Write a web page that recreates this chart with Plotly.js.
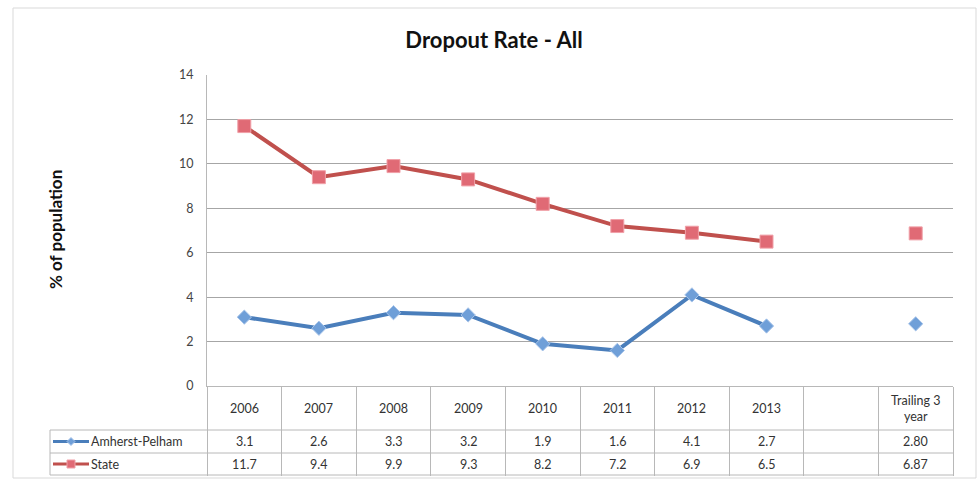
<!DOCTYPE html>
<html>
<head>
<meta charset="utf-8">
<script src="https://cdn.plot.ly/plotly-3.0.1.min.js"></script>
<style>html,body{margin:0;padding:0;background:#fff;}#chart{width:978px;height:482px;}</style>
</head>
<body>
<div id="chart"></div>
<script>
const categories = ["2006","2007","2008","2009","2010","2011","2012","2013"," ","Trailing 3 year"];
const headerLabels = ["2006","2007","2008","2009","2010","2011","2012","2013","","Trailing 3<br>year"];
const amherst = [3.1,2.6,3.3,3.2,1.9,1.6,4.1,2.7,null,2.80];
const state = [11.7,9.4,9.9,9.3,8.2,7.2,6.9,6.5,null,6.87];
const amherstText = ["3.1","2.6","3.3","3.2","1.9","1.6","4.1","2.7","","2.80"];
const stateText = ["11.7","9.4","9.9","9.3","8.2","7.2","6.9","6.5","","6.87"];
const seriesNames = ["Amherst-Pelham","State"];

const FONT = "Lato, 'Open Sans', sans-serif";
const blue = "#4a7ebb", red = "#c0504d";

// plot area: x 207..953, y 75..386
const L = 207, R = 953, T = 75, B = 386;
const W = R - L, H = B - T;
const px = v => (v - L) / W;
const py = v => (B - v) / H;

const traces = [
  {x: categories, y: amherst, name: seriesNames[0], mode: "lines+markers", connectgaps: false,
   line: {color: blue, width: 4},
   marker: {symbol: "diamond", size: 11, color: "#6f9fd8", line: {color: "#a9c5ea", width: 1}}},
  {x: categories, y: state, name: seriesNames[1], mode: "lines+markers", connectgaps: false,
   line: {color: red, width: 4},
   marker: {symbol: "square", size: 13, color: "#e06a75", line: {color: "#f0a0a8", width: 1}}}
];

const annotations = [];
const rowY = [py(408), py(441.5), py(464)];
categories.forEach((c, i) => {
  // category axis: use the category index as position
  annotations.push({x: i, xref: "x", y: rowY[0], yref: "paper", text: headerLabels[i], showarrow: false,
    font: {family: FONT, size: 12.5, color: "#333"}, yanchor: "middle"});
  annotations.push({x: i, xref: "x", y: rowY[1], yref: "paper", text: amherstText[i], showarrow: false,
    font: {family: FONT, size: 12.5, color: "#333"}, yanchor: "middle"});
  annotations.push({x: i, xref: "x", y: rowY[2], yref: "paper", text: stateText[i], showarrow: false,
    font: {family: FONT, size: 12.5, color: "#333"}, yanchor: "middle"});
});
// row labels
[[seriesNames[0], rowY[1]], [seriesNames[1], rowY[2]]].forEach(([t, y]) => {
  annotations.push({x: px(89), xref: "paper", y: y, yref: "paper", text: t, showarrow: false,
    xanchor: "left", yanchor: "middle", font: {family: FONT, size: 12.5, color: "#333"}});
});
// y axis title
annotations.push({x: px(55), xref: "paper", y: py(230), yref: "paper", text: "<b>% of population</b>",
  textangle: -90, showarrow: false, xanchor: "center", yanchor: "middle",
  font: {family: FONT, size: 17, color: "#111"}});

const gray = "#b8b8b8";
const shapes = [
  {type: "rect", xref: "paper", yref: "paper", x0: px(13), x1: px(976), y0: py(478), y1: py(8),
   line: {color: "#d9d9d9", width: 1}},
  {type: "line", xref: "paper", yref: "paper", x0: px(50), x1: 1, y0: py(430), y1: py(430), line: {color: gray, width: 1}},
  {type: "line", xref: "paper", yref: "paper", x0: px(50), x1: 1, y0: py(453), y1: py(453), line: {color: gray, width: 1}},
  {type: "line", xref: "paper", yref: "paper", x0: px(50), x1: 1, y0: py(475), y1: py(475), line: {color: gray, width: 1}},
  {type: "line", xref: "paper", yref: "paper", x0: px(50), x1: px(50), y0: py(430), y1: py(475), line: {color: gray, width: 1}},
  {type: "line", xref: "paper", yref: "paper", x0: px(53), x1: px(89), y0: rowY[1], y1: rowY[1], line: {color: blue, width: 3}},
  {type: "path", xref: "paper", yref: "paper",
   path: `M ${px(71)} ${rowY[1] + 4/H} L ${px(75)} ${rowY[1]} L ${px(71)} ${rowY[1] - 4/H} L ${px(67)} ${rowY[1]} Z`,
   fillcolor: "#6f9fd8", line: {color: "#a9c5ea", width: 1}},
  {type: "line", xref: "paper", yref: "paper", x0: px(53), x1: px(89), y0: rowY[2], y1: rowY[2], line: {color: red, width: 3}},
  {type: "rect", xref: "paper", yref: "paper", x0: px(67), x1: px(75), y0: rowY[2] - 4/H, y1: rowY[2] + 4/H,
   fillcolor: "#e06a75", line: {color: "#f0a0a8", width: 1}}
];

const layout = {
  width: 978, height: 482,
  margin: {l: L, r: 978 - R, t: T, b: 482 - B},
  paper_bgcolor: "#fff", plot_bgcolor: "#fff",
  showlegend: false,
  font: {family: FONT, color: "#333"},
  title: {text: "<b>Dropout Rate - All</b>", x: 494/978, xanchor: "center", y: 1 - 40/482, yanchor: "middle",
    font: {family: FONT, size: 22, color: "#111"}},
  xaxis: {type: "category", categoryorder: "array", categoryarray: categories,
    range: [-0.5, 9.5], showticklabels: false, tickson: "boundaries", ticks: "outside", ticklen: 89,
    tickcolor: gray, tickwidth: 1, showline: true, linecolor: gray, linewidth: 1,
    showgrid: false, zeroline: false, fixedrange: true},
  yaxis: {range: [0, 14], dtick: 2, tick0: 0, showgrid: true, gridcolor: "#a6a6a6", gridwidth: 1,
    showline: true, linecolor: gray, zeroline: false, ticks: "outside", ticklen: 10,
    tickcolor: "rgba(0,0,0,0)", tickfont: {family: FONT, size: 12.5, color: "#444"}, fixedrange: true},
  annotations: annotations,
  shapes: shapes
};

Plotly.newPlot("chart", traces, layout, {displayModeBar: false, staticPlot: true});
</script>
</body>
</html>
